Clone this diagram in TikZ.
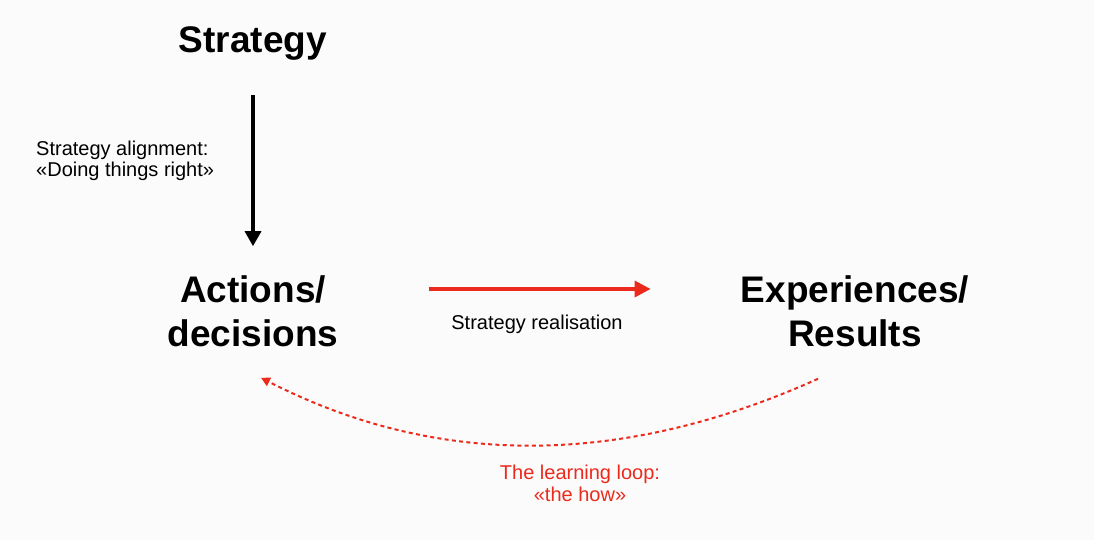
\documentclass[tikz,border=0pt]{standalone}
\usepackage{fontspec}
\setmainfont{Liberation Sans}
\usetikzlibrary{arrows.meta}
\definecolor{bgcol}{HTML}{FBFBFB}
\definecolor{loopred}{HTML}{EC2A1C}
\begin{document}
\begin{tikzpicture}[x=1pt,y=-1pt,
  bigtext/.style={inner sep=0pt, font=\fontsize{37}{44}\selectfont\bfseries, align=center},
  smalltext/.style={inner sep=0pt, font=\fontsize{20}{21}\selectfont},
  redtext/.style={inner sep=0pt, font=\fontsize{20}{22}\selectfont, text=loopred, align=center},
  blackarrow/.style={line width=3.3pt, -{Triangle[length=15pt,width=16pt]}},
  redarrow/.style={line width=3.3pt, draw=loopred, -{Triangle[length=16pt,width=16pt,fill=loopred]}},
  looparrow/.style={line width=2pt, draw=loopred, dash pattern=on 4pt off 3.3pt, -{Triangle[length=9pt,width=9pt,fill=loopred]}}
]
\fill[bgcol] (0,0) rectangle (1094,540);
\useasboundingbox (0,0) rectangle (1094,540);

\node[bigtext, anchor=base] (strat) at (253,53) {Strategy};
\node[bigtext] (act) at (253,311) {Actions/\\decisions};
\node[bigtext] (exp) at (855,311) {Experiences/\\Results};

\node[smalltext, align=left, anchor=north west] (alignlbl) at (36,140.5) {Strategy alignment:\\«Doing things right»};
\node[smalltext, anchor=base] (reallbl) at (537,329) {Strategy realisation};
\node[redtext, anchor=north] (looplbl) at (580,464.5) {The learning loop:\\«the how»};

\draw[blackarrow] ([yshift=-34pt]strat.south) -- ([yshift=29pt]act.north);
\draw[redarrow] ([xshift=90pt,yshift=22pt]act.east) -- ([xshift=-90pt,yshift=22pt]exp.west);
\draw[looparrow] ([xshift=-37pt,yshift=-32pt]exp.south) .. controls (620,468) and (435,467) .. ([xshift=8pt,yshift=-31pt]act.south);
\end{tikzpicture}
\end{document}
